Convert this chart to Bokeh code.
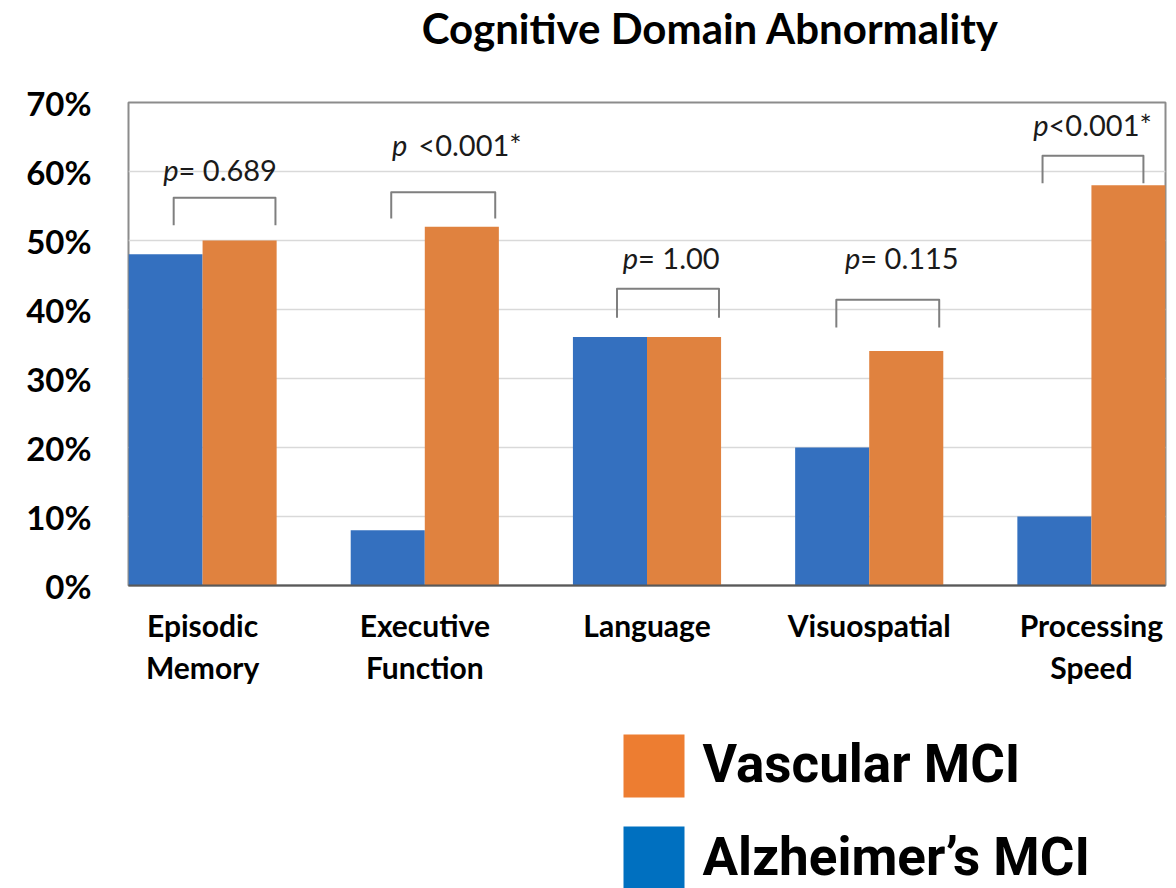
from bokeh.plotting import figure
from bokeh.models import Range1d, FixedTicker, PrintfTickFormatter
from bokeh.layouts import column
from bokeh.embed import file_html
from bokeh.resources import INLINE
from bokeh.core.properties import value

# ---------------- data ----------------
title_text = "Cognitive Domain Abnormality"
categories = ["Episodic\nMemory", "Executive\nFunction", "Language", "Visuospatial", "Processing\nSpeed"]
alzheimers_mci = [48, 8, 36, 20, 10]
vascular_mci = [50, 52, 36, 34, 58]
p_symbol = ["p", "p", "p", "p", "p"]
p_text = ["= 0.689", "<0.001*", "= 1.00", "= 0.115", "<0.001*"]
y_ticks = [0, 10, 20, 30, 40, 50, 60, 70]
series_names = ["Vascular MCI", "Alzheimer\u2019s MCI"]

# ---------------- annotation layout (positions, not data) ----------------
br_left = [-0.130, 0.849, 1.865, 2.852, 3.780]
br_right = [0.328, 1.317, 2.324, 3.315, 4.234]
br_top = [56.2, 57.0, 43.0, 41.4, 62.3]
br_leg = [52.2, 53.2, 38.8, 37.4, 58.3]
p_sym_x = [-0.108, 0.921, 1.960, 2.960, 3.807]
p_txt_x = [-0.108, 0.971, 1.960, 2.960, 3.807]
p_base = [58.7, 62.3, 45.9, 45.9, 65.2]

BLUE = "#3470BF"
ORANGE = "#E0823F"
LEG_ORANGE = "#ED7D31"
LEG_BLUE = "#0070C0"
FONT = "Lato"
W = 1176
LEFT, RIGHT = 128, 11
PX_PER_PCT = 6.9
BASE_FIX = 0.38  # compensates the renderer's alphabetic-baseline offset (in font sizes)

idx = list(range(len(categories)))
bw = 1 / 3

# ---------------- title strip ----------------
t = figure(width=W, height=60, x_range=Range1d(LEFT, W - RIGHT), y_range=Range1d(60, 0),
           output_backend="svg", toolbar_location=None,
           min_border_left=LEFT, min_border_right=RIGHT, min_border_top=0, min_border_bottom=0,
           x_axis_type=None, y_axis_type=None)
t.outline_line_color = None
t.grid.visible = False
t.text(x=[710], y=[43 - BASE_FIX * 42], text=[title_text], text_align="center",
       text_baseline="alphabetic", text_font=value(FONT), text_font_style="bold",
       text_font_size="42px", text_color="black")

# ---------------- main chart ----------------
p = figure(width=W, height=660,
           x_range=Range1d(-1 / 3, len(categories) - 1 + 1 / 3),
           y_range=Range1d(0, 70),
           output_backend="svg", toolbar_location=None,
           min_border_left=LEFT, min_border_right=RIGHT,
           min_border_top=42, min_border_bottom=135)
p.background_fill_color = "white"
p.border_fill_color = "white"
p.outline_line_color = "#8c8c8c"
p.outline_line_width = 2

p.vbar(x=[i - bw / 2 for i in idx], top=alzheimers_mci, width=bw,
       fill_color=BLUE, line_color=None)
p.vbar(x=[i + bw / 2 for i in idx], top=vascular_mci, width=bw,
       fill_color=ORANGE, line_color=None)

p.multi_line(xs=[[l, l, r, r] for l, r in zip(br_left, br_right)],
             ys=[[b, tp, tp, b] for tp, b in zip(br_top, br_leg)],
             line_color="#7f7f7f", line_width=2, line_join="round")

p_y = [b + BASE_FIX * 29 / PX_PER_PCT for b in p_base]
p.text(x=p_sym_x, y=p_y, text=p_symbol, text_align="right",
       text_baseline="alphabetic", text_font=value(FONT),
       text_font_style="italic", text_font_size="29px", text_color="#1a1a1a")
p.text(x=p_txt_x, y=p_y, text=p_text, text_align="left",
       text_baseline="alphabetic", text_font=value(FONT),
       text_font_size="29px", text_color="#1a1a1a")

p.xaxis.ticker = FixedTicker(ticks=idx)
p.xaxis.major_label_overrides = {i: c for i, c in zip(idx, categories)}
p.xaxis.major_label_text_font = FONT
p.xaxis.major_label_text_font_style = "bold"
p.xaxis.major_label_text_font_size = "30px"
p.xaxis.major_label_text_color = "black"
p.xaxis.major_label_text_line_height = 1.17
p.xaxis.major_label_standoff = 15
p.xaxis.major_tick_line_color = None
p.xaxis.minor_tick_line_color = None
p.xaxis.axis_line_color = "#595959"
p.xaxis.axis_line_width = 2

p.yaxis.ticker = FixedTicker(ticks=y_ticks)
p.yaxis.formatter = PrintfTickFormatter(format="%d%%")
p.yaxis.major_label_text_font = FONT
p.yaxis.major_label_text_font_style = "bold"
p.yaxis.major_label_text_font_size = "33px"
p.yaxis.major_label_text_color = "black"
p.yaxis.major_label_standoff = 31
p.yaxis.major_tick_line_color = None
p.yaxis.minor_tick_line_color = None
p.yaxis.axis_line_color = None

p.xgrid.grid_line_color = None
p.ygrid.grid_line_color = "#d9d9d9"
p.ygrid.grid_line_width = 1.5

# ---------------- legend panel ----------------
q = figure(width=W, height=168, x_range=Range1d(LEFT, W - RIGHT), y_range=Range1d(888, 720),
           output_backend="svg", toolbar_location=None,
           min_border_left=LEFT, min_border_right=RIGHT, min_border_top=0, min_border_bottom=0,
           x_axis_type=None, y_axis_type=None)
q.outline_line_color = None
q.grid.visible = False
q.quad(left=[623, 623], right=[684, 684], top=[734, 826], bottom=[797, 890],
       fill_color=[LEG_ORANGE, LEG_BLUE], line_color=None)
q.text(x=[702, 702], y=[784 - BASE_FIX * 53, 877 - BASE_FIX * 53], text=series_names,
       text_align="left", text_baseline="alphabetic", text_font=value("Roboto"),
       text_font_style="bold", text_font_size="53px", text_color="black")

layout = column(t, p, q, spacing=0)
open("out.html", "w").write(file_html(layout, INLINE))
